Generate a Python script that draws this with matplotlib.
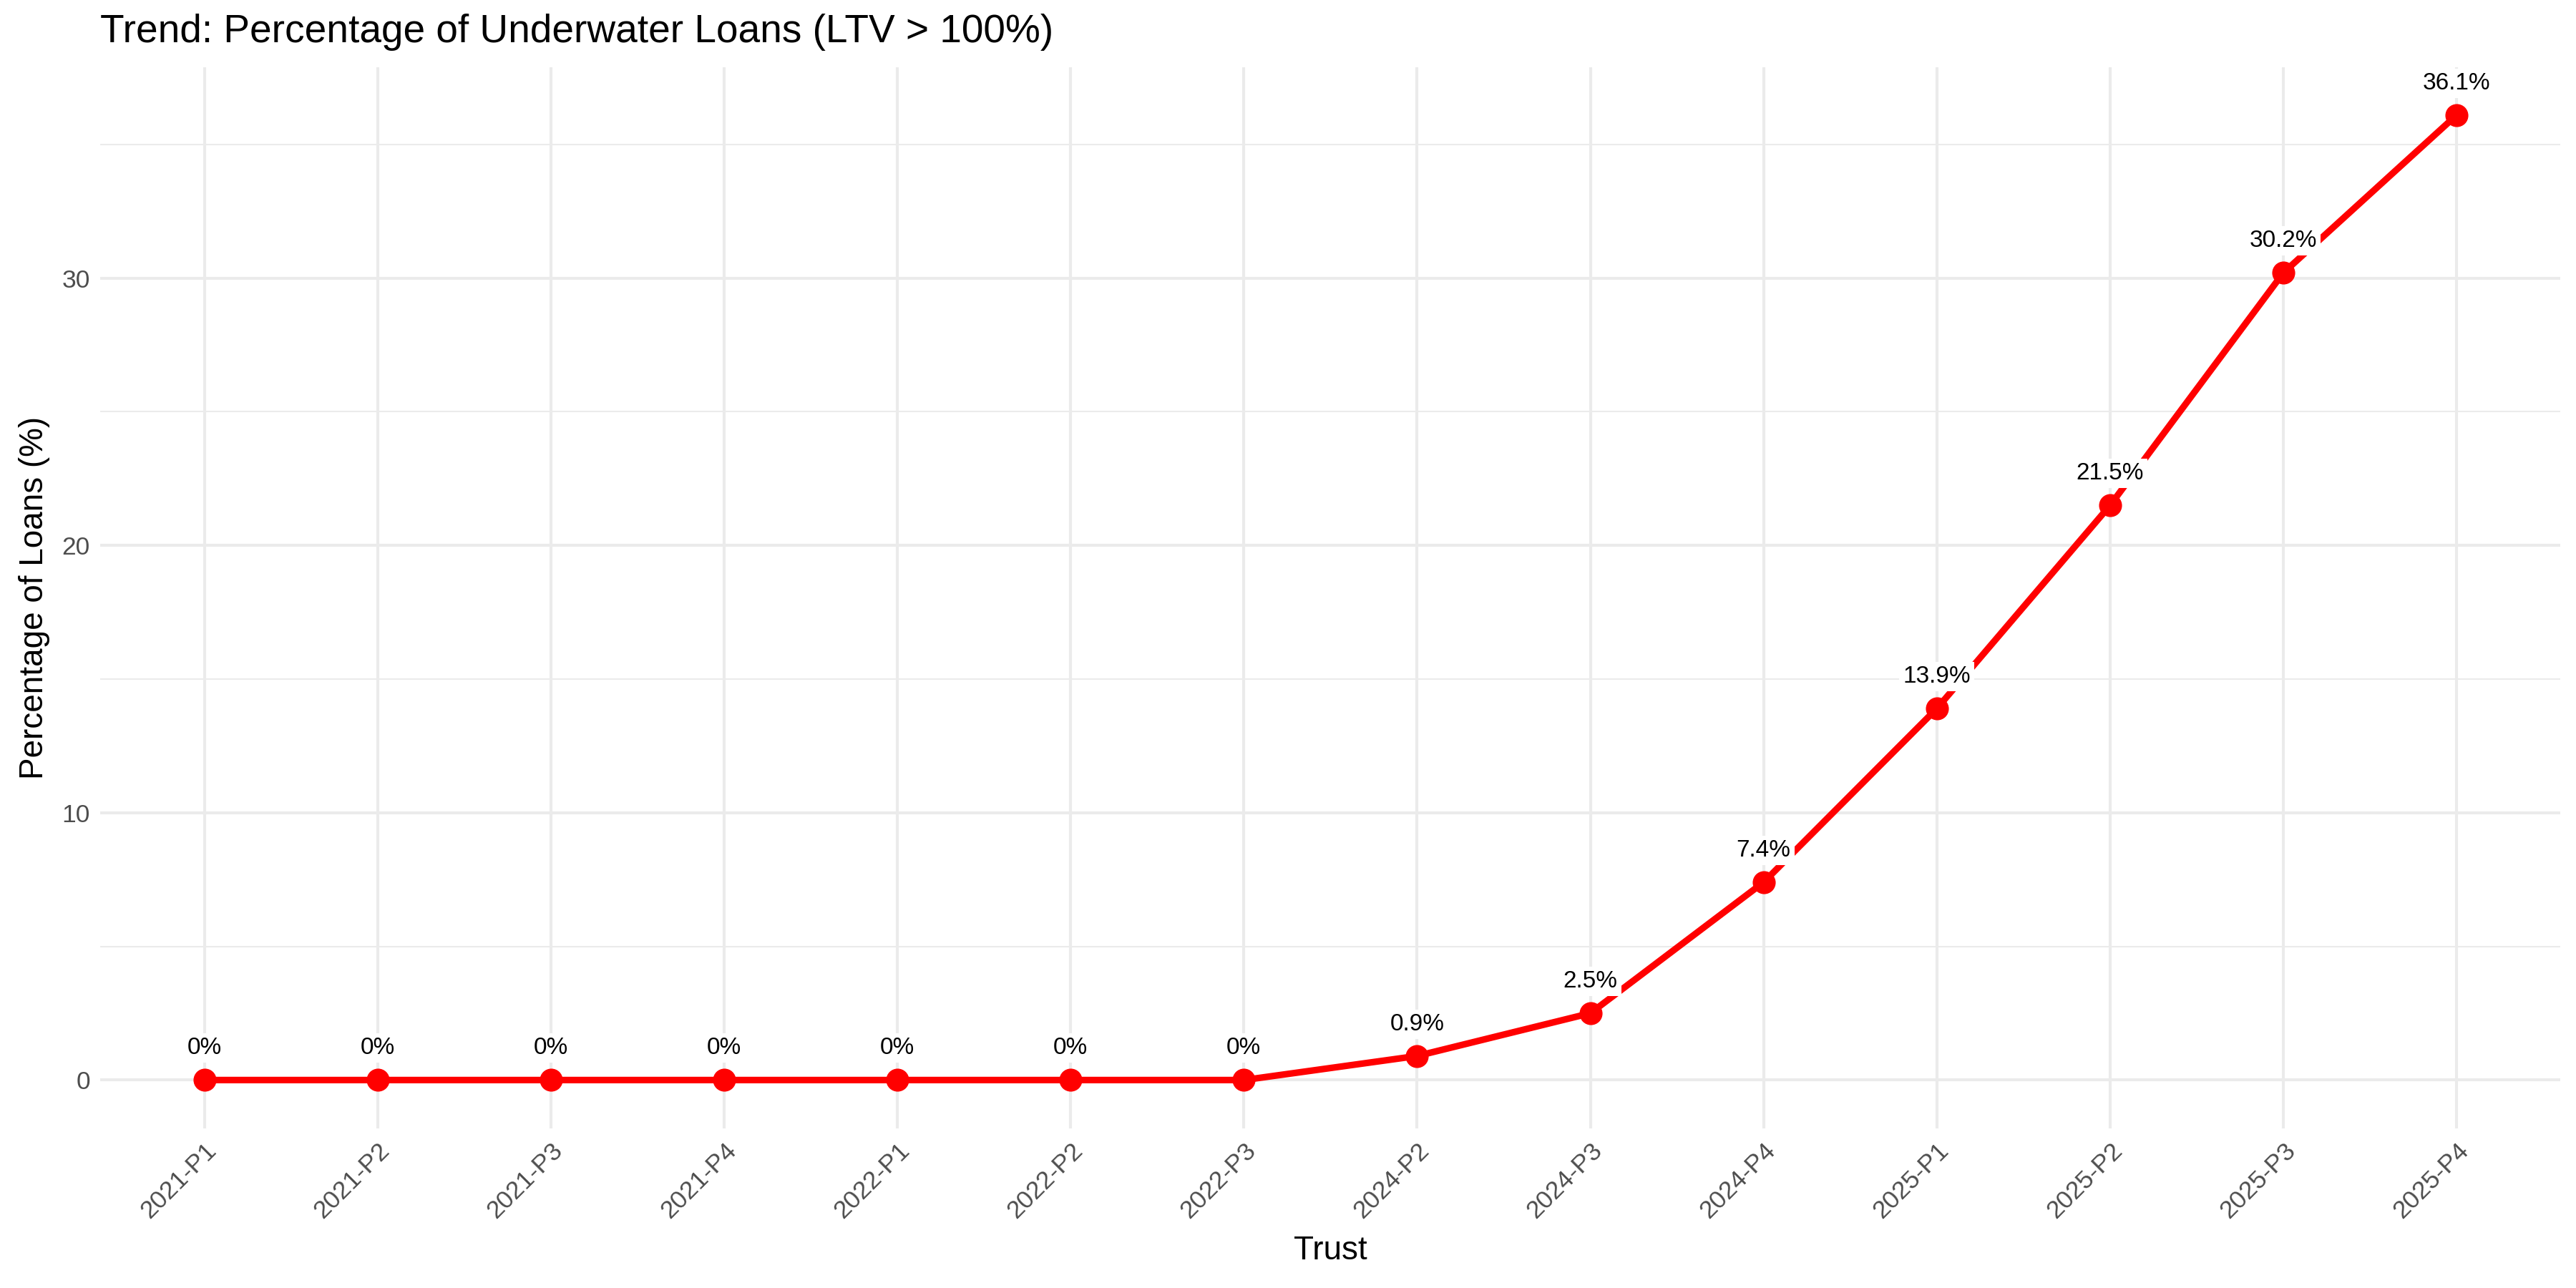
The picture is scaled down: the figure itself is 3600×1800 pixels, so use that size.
import matplotlib
matplotlib.use("Agg")
import matplotlib.pyplot as plt
from matplotlib.ticker import MultipleLocator

plt.rcParams['font.family'] = ['Liberation Sans', 'DejaVu Sans']

trusts = ["2021-P1","2021-P2","2021-P3","2021-P4","2022-P1","2022-P2","2022-P3",
          "2024-P2","2024-P3","2024-P4","2025-P1","2025-P2","2025-P3","2025-P4"]
pct = [0,0,0,0,0,0,0,0.9,2.5,7.4,13.9,21.5,30.2,36.1]
labels = ["0%"]*7 + ["0.9%","2.5%","7.4%","13.9%","21.5%","30.2%","36.1%"]

fig = plt.figure(figsize=(12,6), dpi=300)
ax = fig.add_axes([0.039, 0.124, 0.955, 0.824])
x = list(range(1, len(trusts)+1))
ax.plot(x, pct, color='#FF0000', lw=2.2, zorder=3)
ax.scatter(x, pct, color='#FF0000', s=45, zorder=4)
for xi, yi, lb in zip(x, pct, labels):
    ax.annotate(lb, (xi, yi), xytext=(0, 7), textcoords='offset points', ha='center', va='bottom',
                fontsize=8, color='black', zorder=5,
                bbox=dict(boxstyle='square,pad=0.15', fc='white', ec='none'))
ax.set_xlim(0.4, 14.6)
ax.set_ylim(-1.805, 37.9)
ax.set_xticks(x)
ax.set_xticklabels(trusts, rotation=45, ha='right', rotation_mode='anchor', fontsize=8.5, color='#4D4D4D')
ax.yaxis.set_major_locator(MultipleLocator(10))
ax.yaxis.set_minor_locator(MultipleLocator(5))
ax.tick_params(axis='y', labelsize=8.5, labelcolor='#4D4D4D')
ax.tick_params(which='both', length=0)
ax.grid(which='major', color='#EBEBEB', lw=1.0)
ax.grid(which='minor', axis='y', color='#EBEBEB', lw=0.5)
ax.set_axisbelow(True)
for s in ax.spines.values():
    s.set_visible(False)
ax.set_xlabel("Trust", fontsize=11)
ax.set_ylabel("Percentage of Loans (%)", fontsize=11)
fig.text(0.039, 0.975, "Trend: Percentage of Underwater Loans (LTV > 100%)", fontsize=13.2, va='center', ha='left')
fig.savefig("out.png", dpi=300)
